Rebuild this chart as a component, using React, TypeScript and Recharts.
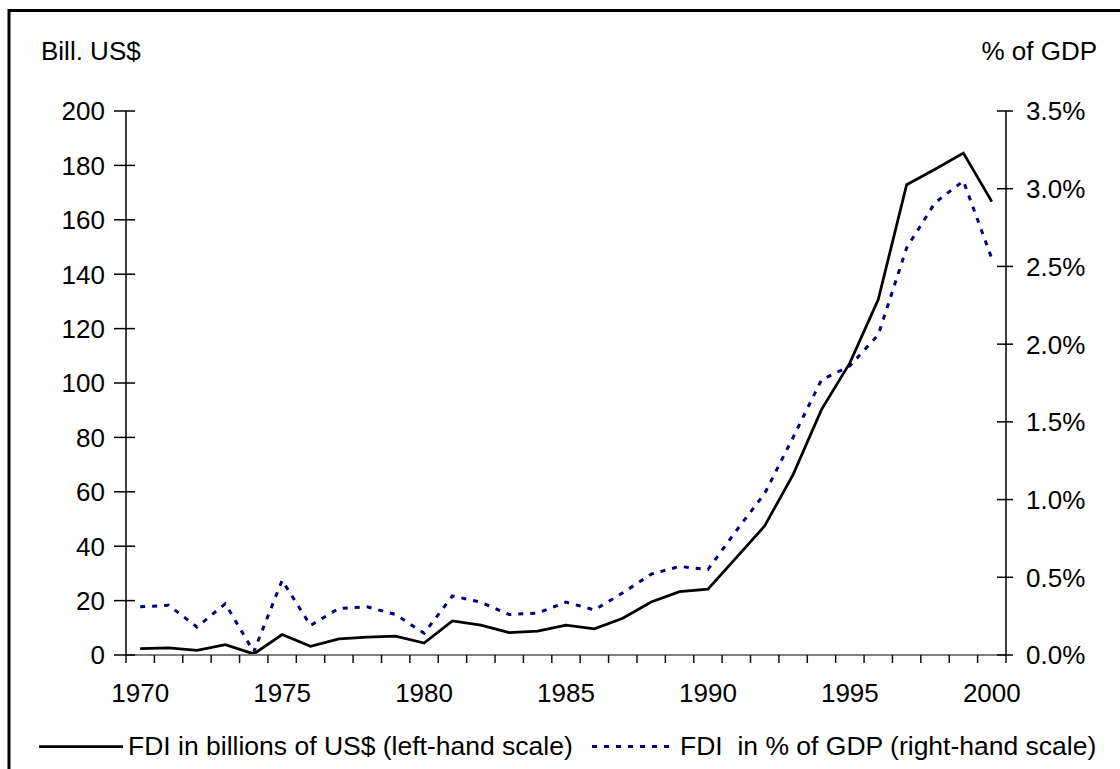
// FDI chart: billions of US$ (left scale) against % of GDP (right scale),
// 1970–2000. Framed box, boundary ticks on the year axis, crossing ticks
// on both value axes.
import { Line, LineChart, XAxis, YAxis } from "recharts";

const years = [
  1970, 1971, 1972, 1973, 1974, 1975, 1976, 1977, 1978, 1979, 1980, 1981, 1982, 1983, 1984, 1985,
  1986, 1987, 1988, 1989, 1990, 1991, 1992, 1993, 1994, 1995, 1996, 1997, 1998, 1999, 2000,
];
const fdiBillions = [
  2.3, 2.6, 1.7, 3.8, 0.4, 7.5, 3.2, 5.9, 6.6, 6.9, 4.4, 12.5, 11.0, 8.2, 8.8, 11.0,
  9.6, 13.5, 19.5, 23.3, 24.2, 35.8, 47.5, 66.3, 90.2, 107.4, 130.7, 172.9, 178.6, 184.5, 166.7,
];
const fdiPctGdp = [
  0.31, 0.32, 0.18, 0.33, 0.02, 0.48, 0.19, 0.3, 0.31, 0.26, 0.14, 0.38, 0.34, 0.26, 0.27, 0.34,
  0.29, 0.4, 0.52, 0.57, 0.55, 0.8, 1.04, 1.4, 1.77, 1.86, 2.06, 2.62, 2.91, 3.05, 2.55,
];
const leftTicks = [0, 20, 40, 60, 80, 100, 120, 140, 160, 180, 200];
const rightTicks = [0, 0.5, 1, 1.5, 2, 2.5, 3, 3.5];
const yearLabels = [1970, 1975, 1980, 1985, 1990, 1995, 2000];

const data = years.map((year, i) => ({ year, bill: fdiBillions[i], pct: fdiPctGdp[i] }));
// tick marks sit on the boundaries between years, labels on the years
const boundaries = [...years.map((y) => y - 0.5), years[years.length - 1] + 0.5];
const xTicks = [...boundaries, ...yearLabels];

const FONT = "'Liberation Sans', Arial, sans-serif";
const FS = 26;
const NAVY = "#000080";
const DASH = "5 7";

function LeftTick({ x, y, payload }: any) {
  return (
    <g>
      <line x1={x - 12} x2={x + 9} y1={y} y2={y} stroke="#000" strokeWidth={1.5} />
      <text x={x - 21} y={y} dy="0.36em" textAnchor="end" fontFamily={FONT} fontSize={FS} fill="#000">
        {payload.value}
      </text>
    </g>
  );
}

function RightTick({ x, y, payload }: any) {
  return (
    <g>
      <line x1={x - 9} x2={x + 7} y1={y} y2={y} stroke="#000" strokeWidth={1.5} />
      <text x={x + 20} y={y} dy="0.36em" textAnchor="start" fontFamily={FONT} fontSize={FS} fill="#000">
        {`${Number(payload.value).toFixed(1)}%`}
      </text>
    </g>
  );
}

function YearTick({ x, y, payload }: any) {
  const v = Number(payload.value);
  if (v % 1 !== 0) {
    return <line x1={x} x2={x} y1={y} y2={y + 8} stroke="#111" strokeWidth={1.5} />;
  }
  return (
    <text x={x} y={y + 47} textAnchor="middle" fontFamily={FONT} fontSize={FS} fill="#000">
      {v}
    </text>
  );
}

export default function App() {
  return (
    <div style={{ position: "absolute", left: 0, top: 0, width: 1120, height: 769, background: "#fff" }}>
      <LineChart width={1120} height={769} data={data} margin={{ top: 111, right: 0, bottom: 0, left: 0 }}>
        <XAxis
          dataKey="year"
          type="number"
          domain={[1969.5, 2000.5]}
          ticks={xTicks}
          interval={0}
          height={114}
          tickSize={0}
          tickMargin={0}
          tickLine={false}
          axisLine={{ stroke: "#808080", strokeWidth: 2 }}
          tick={<YearTick />}
        />
        <YAxis
          yAxisId="left"
          orientation="left"
          domain={[0, 200]}
          ticks={leftTicks}
          interval={0}
          width={126}
          tickSize={0}
          tickMargin={0}
          tickLine={false}
          axisLine={{ stroke: "#000", strokeWidth: 1.5 }}
          tick={<LeftTick />}
        />
        <YAxis
          yAxisId="right"
          orientation="right"
          domain={[0, 3.5]}
          ticks={rightTicks}
          interval={0}
          width={114}
          tickSize={0}
          tickMargin={0}
          tickLine={false}
          axisLine={{ stroke: "#000", strokeWidth: 1.5 }}
          tick={<RightTick />}
        />
        <Line
          yAxisId="right"
          type="linear"
          dataKey="pct"
          stroke={NAVY}
          strokeWidth={3}
          strokeDasharray={DASH}
          dot={false}
          isAnimationActive={false}
        />
        <Line
          yAxisId="left"
          type="linear"
          dataKey="bill"
          stroke="#000"
          strokeWidth={2.75}
          dot={false}
          isAnimationActive={false}
        />
      </LineChart>
      <svg
        width={1120}
        height={769}
        style={{ position: "absolute", left: 0, top: 0, pointerEvents: "none" }}
        fontFamily={FONT}
        fontSize={FS}
      >
        <line x1={9} x2={1120} y1={10.5} y2={10.5} stroke="#000" strokeWidth={3} />
        <line x1={9} x2={9} y1={9} y2={769} stroke="#000" strokeWidth={3} />
        <text x={41} y={60} fill="#000">Bill. US$</text>
        <text x={1097} y={60} textAnchor="end" fill="#000">% of GDP</text>
        <line x1={39} x2={123} y1={746.5} y2={746.5} stroke="#000" strokeWidth={2.75} />
        <text x={128} y={755} fill="#000" fontSize={26.5}>FDI in billions of US$ (left-hand scale)</text>
        <line x1={592} x2={674} y1={746.5} y2={746.5} stroke={NAVY} strokeWidth={3} strokeDasharray={DASH} />
        <text x={680} y={755} fill="#000" fontSize={26.5} style={{ whiteSpace: "pre" }}>
          {"FDI  in % of GDP (right-hand scale)"}
        </text>
      </svg>
    </div>
  );
}
